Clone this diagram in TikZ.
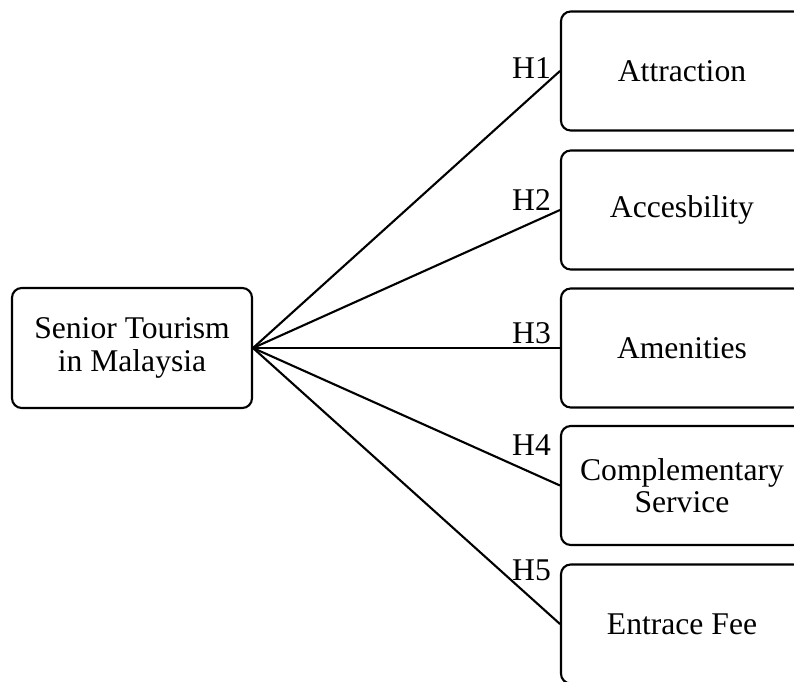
\documentclass[tikz,border=0pt]{standalone}
\usepackage{fontspec}
\setmainfont{Liberation Serif}
\usetikzlibrary{positioning}
\tikzset{
  hub/.style={draw, rounded corners=5.5pt, line width=1.2pt, inner sep=0pt,
    minimum width=4.8cm, minimum height=2.4cm, align=center,
    font=\fontsize{18}{18.5}\selectfont},
  factor/.style={hub, minimum width=4.84cm, minimum height=2.38cm},
  hyp/.style={anchor=east, inner sep=1pt, font=\fontsize{18}{18.5}\selectfont},
  link/.style={line width=1.2pt},
}

\begin{document}
\begin{tikzpicture}[x=0.02cm, y=-0.02cm]
  \useasboundingbox (0,0) rectangle (794,682);
  \node[hub] (tour) at (132,348) {Senior Tourism\\in Malaysia};
  \foreach \i/\yy/\hy/\txt in {1/71/68/Attraction, 2/210/200/Accesbility,
      3/348/333/Amenities, 4/485.5/445/{Complementary\\Service},
      5/624/570/Entrace Fee}{
    \node[factor] (f\i) at (682,\yy) {\txt};
    \node[hyp] (h\i) at (553,\hy) {H\i};
    \draw[link] (tour.east) -- (f\i.west);
  }
\end{tikzpicture}
\end{document}
